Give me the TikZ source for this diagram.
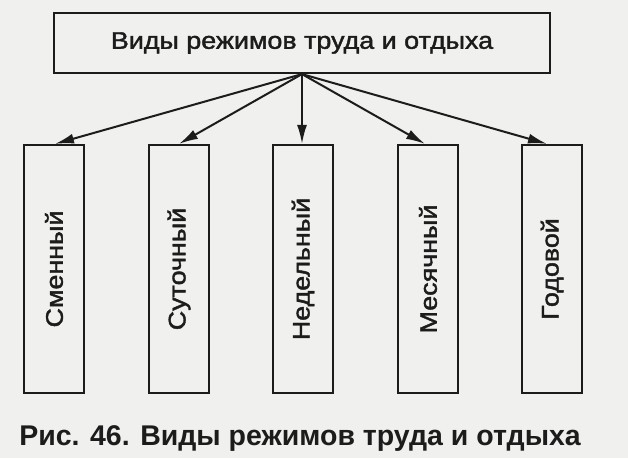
\documentclass[tikz,border=0pt]{standalone}
\usepackage{fontspec}
\setmainfont{Liberation Sans}
\newfontfamily\scanfont{Liberation Sans}[FakeBold=1.6]
\newcommand{\widetext}[1]{\scalebox{1.12}[1]{#1}}
\usetikzlibrary{arrows.meta}
\definecolor{paper}{RGB}{240,240,238}
\definecolor{ink}{RGB}{28,28,28}
\begin{document}
\begin{tikzpicture}[x=1pt,y=-1pt,
  box/.style={draw=ink,line width=2.2pt,inner sep=0pt},
  kindbox/.style={box,minimum width=60pt,minimum height=248pt},
  kindtext/.style={rotate=90,font=\scanfont\fontsize{24}{26}\selectfont,text=ink},
  arr/.style={draw=ink,line width=2pt,-{Latex[length=19pt,width=10pt]}}]
\fill[paper] (0,0) rectangle (628,458);
\useasboundingbox (0,0) rectangle (628,458);
\node[box,minimum width=496pt,minimum height=60pt,font=\scanfont\fontsize{24}{26}\selectfont,text=ink] (top) at (302,43) {\widetext{Виды режимов труда и отдыха}};
\node[kindbox] (b1) at (54,269) {};
\node[kindbox] (b2) at (179,269) {};
\node[kindbox] (b3) at (303,269) {};
\node[kindbox] (b4) at (428,269) {};
\node[kindbox] (b5) at (552,269) {};
\node[kindtext] (t1) at (b1) {\widetext{Сменный}};
\node[kindtext] (t2) at (b2) {\widetext{Суточный}};
\node[kindtext] (t3) at (b3) {\widetext{Недельный}};
\node[kindtext] (t4) at (b4) {\widetext{Месячный}};
\node[kindtext] (t5) at (b5) {\widetext{Годовой}};
\coordinate (o) at (top.south);
\draw[arr] (o) -- ([xshift=1pt]b1.north);
\draw[arr] (o) -- (b2.north);
\draw[arr] (o) -- ([xshift=-1pt]b3.north);
\draw[arr] (o) -- ([xshift=-3pt]b4.north);
\draw[arr] (o) -- ([xshift=-5pt]b5.north);
\node[font=\bfseries\fontsize{28.5}{31}\selectfont,text=ink,anchor=base] (cap) at (300,445) {Рис. 46. Виды режимов труда и отдыха};
\end{tikzpicture}
\end{document}
